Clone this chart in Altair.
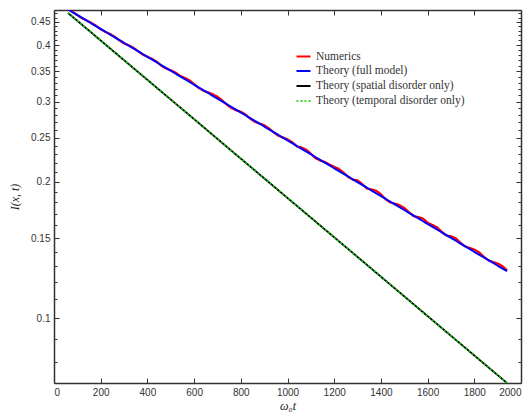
import altair as alt
import pandas as pd

# ---- data ----
t_num = list(range(60, 1941, 20))
numerics = [
    0.4793, 0.4735, 0.4659, 0.4585, 0.4529, 0.4479, 0.4412, 0.4332, 0.4276, 0.4233,
    0.4173, 0.4095, 0.4033, 0.3996, 0.3948, 0.3877, 0.3812, 0.3769, 0.3731, 0.3675,
    0.3602, 0.3551, 0.3519, 0.3480, 0.3421, 0.3386, 0.3346, 0.3282, 0.3216, 0.3171,
    0.3146, 0.3115, 0.3076, 0.3021, 0.2955, 0.2905, 0.2873, 0.2850, 0.2812, 0.2754,
    0.2709, 0.2685, 0.2663, 0.2623, 0.2569, 0.2525, 0.2502, 0.2479, 0.2442, 0.2391,
    0.2377, 0.2352, 0.2304, 0.2252, 0.2226, 0.2210, 0.2181, 0.2155, 0.2133, 0.2092,
    0.2047, 0.2020, 0.2012, 0.1974, 0.1930, 0.1921, 0.1909, 0.1875, 0.1828, 0.1799,
    0.1788, 0.1774, 0.1750, 0.1712, 0.1678, 0.1669, 0.1658, 0.1623, 0.1605, 0.1586,
    0.1551, 0.1521, 0.1514, 0.1500, 0.1467, 0.1439, 0.1428, 0.1416, 0.1397, 0.1367,
    0.1341, 0.1329, 0.1319, 0.1302, 0.1275,
]

t_theory = [60, 200, 400, 600, 800, 1000, 1200, 1400, 1600, 1800, 1940]
full_model = [0.4793, 0.4342, 0.3769, 0.3271, 0.2840, 0.2465, 0.2140, 0.1858, 0.1613, 0.1400, 0.1269]
spatial_only = [0.4709, 0.4094, 0.3352, 0.2746, 0.2247, 0.1840, 0.1507, 0.1234, 0.1010, 0.0827, 0.0719]
temporal_only = [0.4709, 0.4094, 0.3352, 0.2746, 0.2247, 0.1840, 0.1507, 0.1234, 0.1010, 0.0827, 0.0719]

names = ["Numerics", "Theory (full model)", "Theory (spatial disorder only)",
         "Theory (temporal disorder only)"]
colors = ["#ff0000", "#0000ff", "#000000", "#00cc00"]
dashes = [[1, 0], [1, 0], [1, 0], [2, 2]]
widths = [2.2, 1.6, 1.0, 1.3]

x_major = list(range(0, 2001, 200))
y_major = [0.1, 0.15, 0.2, 0.25, 0.3, 0.35, 0.4, 0.45]
y_minor = [round(0.08 + 0.01 * i, 2) for i in range(40)]

rows = []
for t, v in zip(t_num, numerics):
    rows.append({"series": names[0], "t": t, "I": v})
for t, v in zip(t_theory, full_model):
    rows.append({"series": names[1], "t": t, "I": v})
for t, v in zip(t_theory, spatial_only):
    rows.append({"series": names[2], "t": t, "I": v})
for t, v in zip(t_theory, temporal_only):
    rows.append({"series": names[3], "t": t, "I": v})
df = pd.DataFrame(rows)

xscale = alt.Scale(domain=[0, 2000], nice=False, zero=False)
yscale = alt.Scale(type="log", domain=[0.0719, 0.478], nice=False)

TICK = "#333333"

legend = alt.Legend(
    orient="none", legendX=241, legendY=38, title=None, symbolType="stroke",
    symbolSize=196, labelFont="Liberation Serif", labelFontSize=11.5,
    labelColor="#333333", rowPadding=1, labelOffset=4,
)

def tick_axis(orient, values, size):
    return alt.Axis(orient=orient, values=values, offset=-size, tickSize=size,
                    labels=False, domain=False, grid=False, title=None,
                    tickColor=TICK, tickWidth=1)

def frame_axis(orient):
    return alt.Axis(orient=orient, ticks=False, labels=False, domain=True,
                    domainColor=TICK, domainWidth=1.5, grid=False, title=None)

def layer(name, xaxis, yaxis):
    return alt.Chart(df).transform_filter(alt.datum.series == name).mark_line(clip=True).encode(
        x=alt.X("t:Q", scale=xscale, axis=xaxis),
        y=alt.Y("I:Q", scale=yscale, axis=yaxis),
        color=alt.Color("series:N", scale=alt.Scale(domain=names, range=colors), legend=legend),
        strokeDash=alt.StrokeDash("series:N", scale=alt.Scale(domain=names, range=dashes), legend=legend),
        strokeWidth=alt.StrokeWidth("series:N", scale=alt.Scale(domain=names, range=widths), legend=legend),
    )

def axis_holder(xaxis, yaxis):
    return alt.Chart(df).transform_filter(alt.datum.series == names[1]).mark_line(opacity=0).encode(
        x=alt.X("t:Q", scale=xscale, axis=xaxis),
        y=alt.Y("I:Q", scale=yscale, axis=yaxis),
    )

x_label_axis = alt.Axis(
    orient="bottom", values=x_major, ticks=False, domain=False, grid=False, format="d",
    labelPadding=4, labelFont="Liberation Sans", labelFontSize=10, labelColor="#333333",
    title="ω₀t", titleFont="Liberation Serif", titleFontStyle="italic",
    titleFontWeight="normal", titleFontSize=12, titleColor="#222222", titlePadding=3,
)
y_label_axis = alt.Axis(
    orient="left", values=y_major, ticks=False, domain=False, grid=False, format="~g",
    labelPadding=4, labelFont="Liberation Sans", labelFontSize=10, labelColor="#333333",
    title="I(x, t)", titleFont="Liberation Serif", titleFontStyle="italic",
    titleFontWeight="normal", titleFontSize=12, titleColor="#222222", titlePadding=9,
)

h_frame_bl = axis_holder(frame_axis("bottom"), frame_axis("left"))
h_frame_tr = axis_holder(frame_axis("top"), frame_axis("right"))
l_red = layer(names[0], x_label_axis, y_label_axis)
l_blue = layer(names[1], tick_axis("bottom", x_major, 5), tick_axis("left", y_major, 5))
l_black = layer(names[2], tick_axis("top", x_major, 5), tick_axis("right", y_major, 5))
l_green = layer(names[3], None, tick_axis("left", y_minor, 3))
h_minor_r = axis_holder(None, tick_axis("right", y_minor, 3))

chart = alt.layer(h_frame_bl, h_frame_tr, l_red, l_blue, l_black, l_green, h_minor_r).resolve_axis(
    x="independent", y="independent"
).properties(
    width=467, height=373,
    autosize=alt.AutoSizeParams(type="none"),
    padding={"left": 46, "top": 2, "right": 2, "bottom": 30},
).configure_view(stroke="#333333", strokeWidth=1).configure(background="white")

chart.save("out.html", embed_options={"renderer": "svg", "actions": False})
